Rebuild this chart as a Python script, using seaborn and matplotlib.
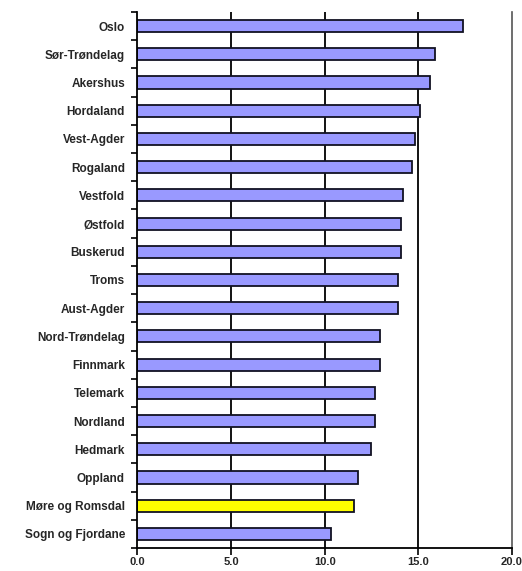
import matplotlib
matplotlib.use("Agg")
import matplotlib.pyplot as plt
import seaborn as sns
import numpy as np
import pandas as pd

categories = ["Oslo", "Sør-Trøndelag", "Akershus", "Hordaland", "Vest-Agder",
              "Rogaland", "Vestfold", "Østfold", "Buskerud", "Troms",
              "Aust-Agder", "Nord-Trøndelag", "Finnmark", "Telemark",
              "Nordland", "Hedmark", "Oppland", "Møre og Romsdal",
              "Sogn og Fjordane"]
values = [17.4, 15.9, 15.6, 15.1, 14.8, 14.65, 14.2, 14.05, 14.05, 13.9,
          13.9, 12.95, 12.95, 12.7, 12.7, 12.45, 11.8, 11.55, 10.35]
highlight = "Møre og Romsdal"
xticks = [0, 5, 10, 15, 20]
xticklabels = ["0.0", "5.0", "10.0", "15.0", "20.0"]

sns.set_style("white")
plt.rcParams['font.family'] = ['Liberation Sans', 'DejaVu Sans']

df = pd.DataFrame({"fylke": categories, "verdi": values})
palette = {c: ("#FFFF00" if c == highlight else "#9999FF") for c in categories}

fig = plt.figure(figsize=(5.22, 5.71), dpi=100)
ax = fig.add_axes([0.2634, 0.0403, 0.9808 - 0.2634, 0.979 - 0.0403])

for gx in [5, 10, 15]:
    ax.axvline(gx, color="black", lw=1.3, zorder=0)

sns.barplot(data=df, x="verdi", y="fylke", hue="fylke", palette=palette,
            legend=False, orient="h", width=0.43, edgecolor="#111122",
            linewidth=1.3, saturation=1, ax=ax, zorder=2)

ax.set_xlim(0, 20)
ax.set_ylim(len(categories) - 0.5, -0.5)
ax.set_xticks(xticks)
ax.set_xticklabels(xticklabels, fontsize=8, fontweight="bold")
ax.set_xlabel("")
ax.set_ylabel("")
ax.tick_params(axis="y", length=0, pad=9, labelsize=8.5)
for lab in ax.get_yticklabels():
    lab.set_fontweight("bold")
ax.set_yticks(np.arange(-0.5, len(categories), 1.0), minor=True)
ax.tick_params(axis="y", which="minor", length=4, width=1.2, color="black", left=True)
ax.tick_params(axis="x", length=5, width=1.2, color="black", bottom=True, pad=1.5)

for s in ["left", "bottom"]:
    ax.spines[s].set_color("black")
    ax.spines[s].set_linewidth(1.3)
ax.spines["right"].set_color("#555555")
ax.spines["right"].set_linewidth(1.2)
ax.spines["top"].set_visible(False)

fig.savefig("out.png", dpi=100)
